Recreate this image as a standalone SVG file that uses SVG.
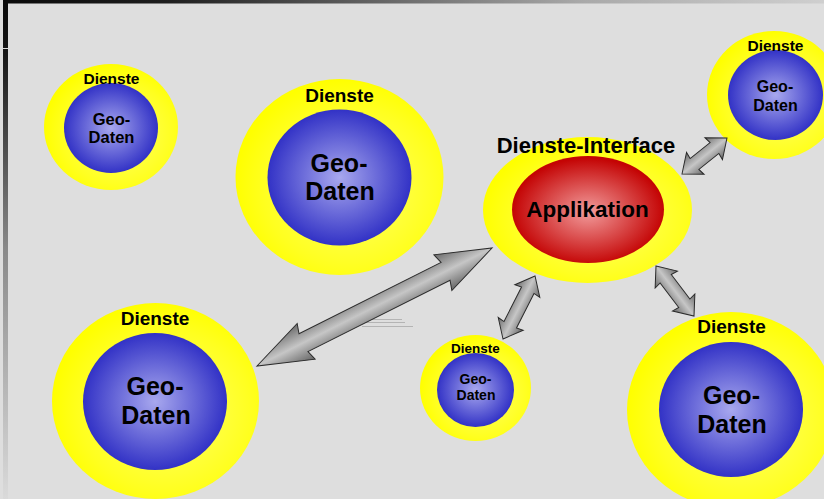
<svg xmlns="http://www.w3.org/2000/svg" width="824" height="499" viewBox="0 0 824 499">
<defs>
<style>
.y{fill:url(#gy)}
.b{fill:url(#gb)}
.r{fill:url(#gr)}
.t{font-family:"Liberation Sans",Arial,sans-serif;font-weight:bold;fill:#000;text-anchor:middle}
.a{fill:url(#ga);stroke:#2a2a2a;stroke-width:1;stroke-linejoin:miter}
.f{stroke:#b4b4b4;stroke-width:1}
</style>
<radialGradient id="gy" cx="55%" cy="55%" r="55%">
<stop offset="0" stop-color="#ffff70"/>
<stop offset="0.75" stop-color="#ffff20"/>
<stop offset="1" stop-color="#ffff00"/>
</radialGradient>
<radialGradient id="gb" cx="50%" cy="50%" r="50%">
<stop offset="0" stop-color="#a8a8ee"/>
<stop offset="1" stop-color="#3232c6"/>
</radialGradient>
<radialGradient id="gr" cx="50%" cy="52%" r="50%">
<stop offset="0" stop-color="#f29c9c"/>
<stop offset="1" stop-color="#c40404"/>
</radialGradient>
<linearGradient id="ga" x1="0" y1="0" x2="0" y2="1">
<stop offset="0" stop-color="#6c6c6c"/>
<stop offset="0.5" stop-color="#c6c6c6"/>
<stop offset="1" stop-color="#666"/>
</linearGradient>
<linearGradient id="gtop" x1="0" y1="0" x2="1" y2="0">
<stop offset="0" stop-color="#0a0a0a"/>
<stop offset="0.2" stop-color="#1e1e1e"/>
<stop offset="0.4" stop-color="#555"/>
<stop offset="0.7" stop-color="#a8a8a8"/>
<stop offset="1" stop-color="#cfcfcf"/>
</linearGradient>
<linearGradient id="gleft" x1="0" y1="0" x2="0" y2="1">
<stop offset="0" stop-color="#0a0a0a"/>
<stop offset="0.1" stop-color="#151515"/>
<stop offset="0.5" stop-color="#8a8a8a"/>
<stop offset="1" stop-color="#dadada"/>
</linearGradient>
</defs>
<rect x="0" y="0" width="824" height="499" fill="#dedede"/>
<g id="frame">
<rect x="3" y="0" width="821" height="3.5" fill="url(#gtop)"/>
<rect x="3" y="0" width="5" height="499" fill="url(#gleft)"/>
<line x1="3" y1="48.5" x2="8" y2="48.5" stroke="#ddd" stroke-width="1"/>
</g>
<g id="node-topleft">
<ellipse class="y" cx="111" cy="127" rx="67" ry="63"/>
<ellipse class="b" cx="111" cy="128" rx="47" ry="45"/>
<text class="t" x="111.5" y="84" font-size="15.5">Dienste</text>
<text class="t" x="111.5" y="125" font-size="16.5">Geo-</text>
<text class="t" x="111.5" y="143" font-size="16.5">Daten</text>
</g>
<g id="node-topmid">
<ellipse class="y" cx="339.5" cy="177" rx="104" ry="98"/>
<ellipse class="b" cx="339.5" cy="177.5" rx="72" ry="68"/>
<text class="t" x="339.5" y="102" font-size="19">Dienste</text>
<text class="t" x="339" y="172" font-size="25">Geo-</text>
<text class="t" x="340" y="200" font-size="25">Daten</text>
</g>
<g id="node-bottomleft">
<ellipse class="y" cx="155.5" cy="401" rx="103.5" ry="98"/>
<ellipse class="b" cx="155" cy="401.5" rx="72" ry="68.5"/>
<text class="t" x="155" y="325" font-size="19">Dienste</text>
<text class="t" x="155" y="395" font-size="25">Geo-</text>
<text class="t" x="156" y="424" font-size="25">Daten</text>
</g>
<g id="node-bottommid">
<ellipse class="y" cx="475.5" cy="388" rx="55.5" ry="53"/>
<ellipse class="b" cx="475.5" cy="390" rx="38.5" ry="37"/>
<text class="t" x="475.5" y="353" font-size="13.5">Dienste</text>
<text class="t" x="475.5" y="384" font-size="14">Geo-</text>
<text class="t" x="476" y="400" font-size="14">Daten</text>
</g>
<g id="node-bottomright">
<ellipse class="y" cx="731" cy="410" rx="104" ry="98"/>
<ellipse class="b" cx="731" cy="409.5" rx="72" ry="67.5"/>
<text class="t" x="731.5" y="333" font-size="19">Dienste</text>
<text class="t" x="731.5" y="404" font-size="25">Geo-</text>
<text class="t" x="732" y="433" font-size="25">Daten</text>
</g>
<g id="node-topright">
<ellipse class="y" cx="774" cy="95" rx="67" ry="64"/>
<ellipse class="b" cx="775.5" cy="95" rx="47.5" ry="45"/>
<text class="t" x="775.5" y="51" font-size="15.5">Dienste</text>
<text class="t" x="775" y="92" font-size="16">Geo-</text>
<text class="t" x="775.5" y="111" font-size="16">Daten</text>
</g>
<g id="node-center">
<ellipse class="y" cx="587.5" cy="210" rx="104.5" ry="73"/>
<ellipse class="r" cx="588" cy="209.5" rx="76" ry="53.5"/>
<text class="t" x="586" y="153" font-size="22">Dienste-Interface</text>
<text class="t" x="587.5" y="217" font-size="22.5">Applikation</text>
</g>
<g id="artifacts">
<line class="f" x1="363" y1="319.5" x2="402" y2="319.5"/>
<line class="f" x1="360" y1="322.5" x2="405" y2="322.5"/>
<line class="f" x1="362" y1="326.5" x2="413" y2="326.5"/>
</g>
<g id="connectors">
<path class="a" transform="translate(257,366) rotate(-26.66)" d="M0,0 L55,-20 L52,-10 L211,-10 L208,-20 L263,0 L208,20 L211,10 L52,10 L55,20 Z"/>
<path class="a" transform="translate(503,339) rotate(-63.07)" d="M0,0 L17,-14 L16,-7 L54.7,-7 L53.7,-14 L70.7,0 L53.7,14 L54.7,7 L16,7 L17,14 Z"/>
<path class="a" transform="translate(656,266) rotate(52.77)" d="M0,0 L17,-14 L16,-7 L46.8,-7 L45.8,-14 L62.8,0 L45.8,14 L46.8,7 L16,7 L17,14 Z"/>
<path class="a" transform="translate(682,174) rotate(-38.66)" d="M0,0 L17,-14 L16,-7 L41.6,-7 L40.6,-14 L57.6,0 L40.6,14 L41.6,7 L16,7 L17,14 Z"/>
</g>
</svg>
